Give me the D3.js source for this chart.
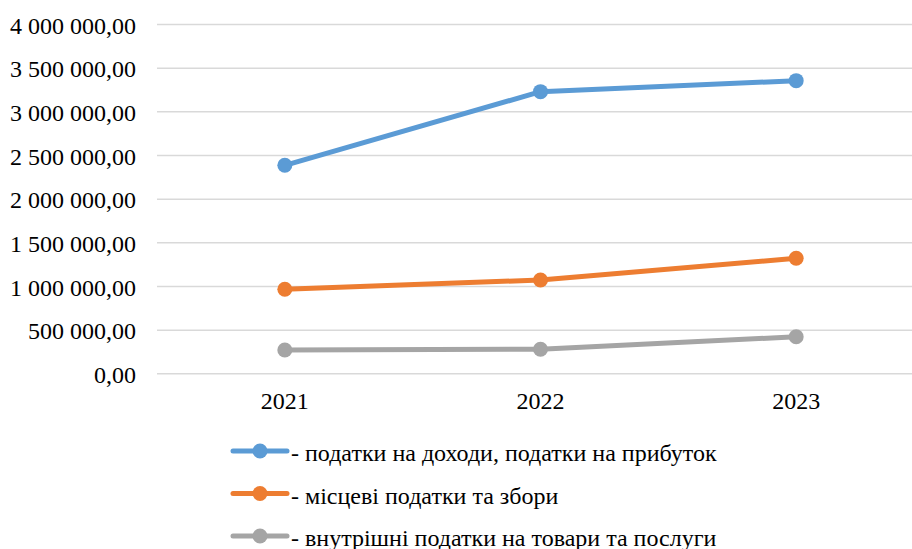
<!DOCTYPE html>
<html>
<head>
<meta charset="utf-8">
<script src="https://cdn.jsdelivr.net/npm/d3@7"></script>
<style>
	body { margin: 0; background: #fff; }
	svg { display: block; font-family: 'Liberation Serif', 'Times New Roman', serif; }
</style>
</head>
<body>
<svg id="chart" width="912" height="549"></svg>
<script>
// Data
const years = ['2021', '2022', '2023'];
const incomeTax = [2382000, 3225000, 3351000];
const localTax = [962000, 1069000, 1317000];
const domesticTax = [267000, 275000, 419000];
const seriesNames = [
	'- податки на доходи, податки на прибуток',
	'- місцеві податки та збори',
	'- внутрішні податки на товари та послуги'
];
const seriesColors = ['#5B9BD5', '#ED7D31', '#A5A5A5'];
const yTicks = [0, 500000, 1000000, 1500000, 2000000, 2500000, 3000000, 3500000, 4000000];

const series = [incomeTax, localTax, domesticTax].map((values, i) => ({
	name: seriesNames[i],
	color: seriesColors[i],
	values: values
}));

const fontFamily = "'Liberation Serif', 'Times New Roman', serif";
const svg = d3.select('#chart');
const plot = { left: 157, right: 924, top: 24, bottom: 373.3 };

const x = d3.scaleBand()
	.domain(years)
	.range([plot.left, plot.right]);

const y = d3.scaleLinear()
	.domain([0, 4000000])
	.range([plot.bottom, plot.top]);

// Number format like "3 500 000,00"
const fmt = d3.formatLocale({ decimal: ',', thousands: ' ', grouping: [3], currency: ['', ''] }).format(',.2f');

// Gridlines + y labels
const yAxis = svg.append('g')
	.attr('transform', 'translate(' + plot.left + ',0)')
	.call(d3.axisLeft(y).tickValues(yTicks).tickFormat(fmt).tickSize(-(912 - plot.left)).tickPadding(21));

yAxis.select('.domain').remove();
yAxis.selectAll('.tick line')
	.attr('stroke', '#D9D9D9')
	.attr('stroke-width', 1.5);
yAxis.selectAll('.tick text')
	.attr('fill', '#000')
	.attr('font-size', 24)
	.attr('dy', '0.38em')
	.attr('font-family', fontFamily);

// x labels
const xAxis = svg.append('g')
	.attr('transform', 'translate(0,' + plot.bottom + ')')
	.call(d3.axisBottom(x).tickSize(0).tickPadding(19));

xAxis.select('.domain').remove();
xAxis.selectAll('.tick text')
	.attr('fill', '#000')
	.attr('font-size', 24)
	.attr('font-family', fontFamily);

// Lines and markers
const cx = d => x(d) + x.bandwidth() / 2;
const line = d3.line()
	.x((d, i) => cx(years[i]))
	.y(d => y(d));

const groups = svg.append('g').selectAll('g')
	.data(series)
	.join('g');

groups.append('path')
	.attr('d', d => line(d.values))
	.attr('fill', 'none')
	.attr('stroke', d => d.color)
	.attr('stroke-width', 5)
	.attr('stroke-linejoin', 'round')
	.attr('stroke-linecap', 'round');

groups.selectAll('circle')
	.data(d => d.values.map((v, i) => ({ v: v, year: years[i], color: d.color })))
	.join('circle')
	.attr('cx', d => cx(d.year))
	.attr('cy', d => y(d.v))
	.attr('r', 7.5)
	.attr('fill', d => d.color);

// Legend
const legend = svg.append('g')
	.selectAll('g')
	.data(series)
	.join('g')
	.attr('transform', (d, i) => 'translate(233,' + (451 + i * 42.5) + ')');

legend.append('line')
	.attr('x1', 0).attr('x2', 54)
	.attr('stroke', d => d.color)
	.attr('stroke-width', 5)
	.attr('stroke-linecap', 'round');

legend.append('circle')
	.attr('cx', 27)
	.attr('r', 7.5)
	.attr('fill', d => d.color);

legend.append('text')
	.attr('x', 58)
	.attr('dy', '0.42em')
	.attr('font-size', 24)
	.attr('fill', '#000')
	.text(d => d.name);
</script>
</body>
</html>
